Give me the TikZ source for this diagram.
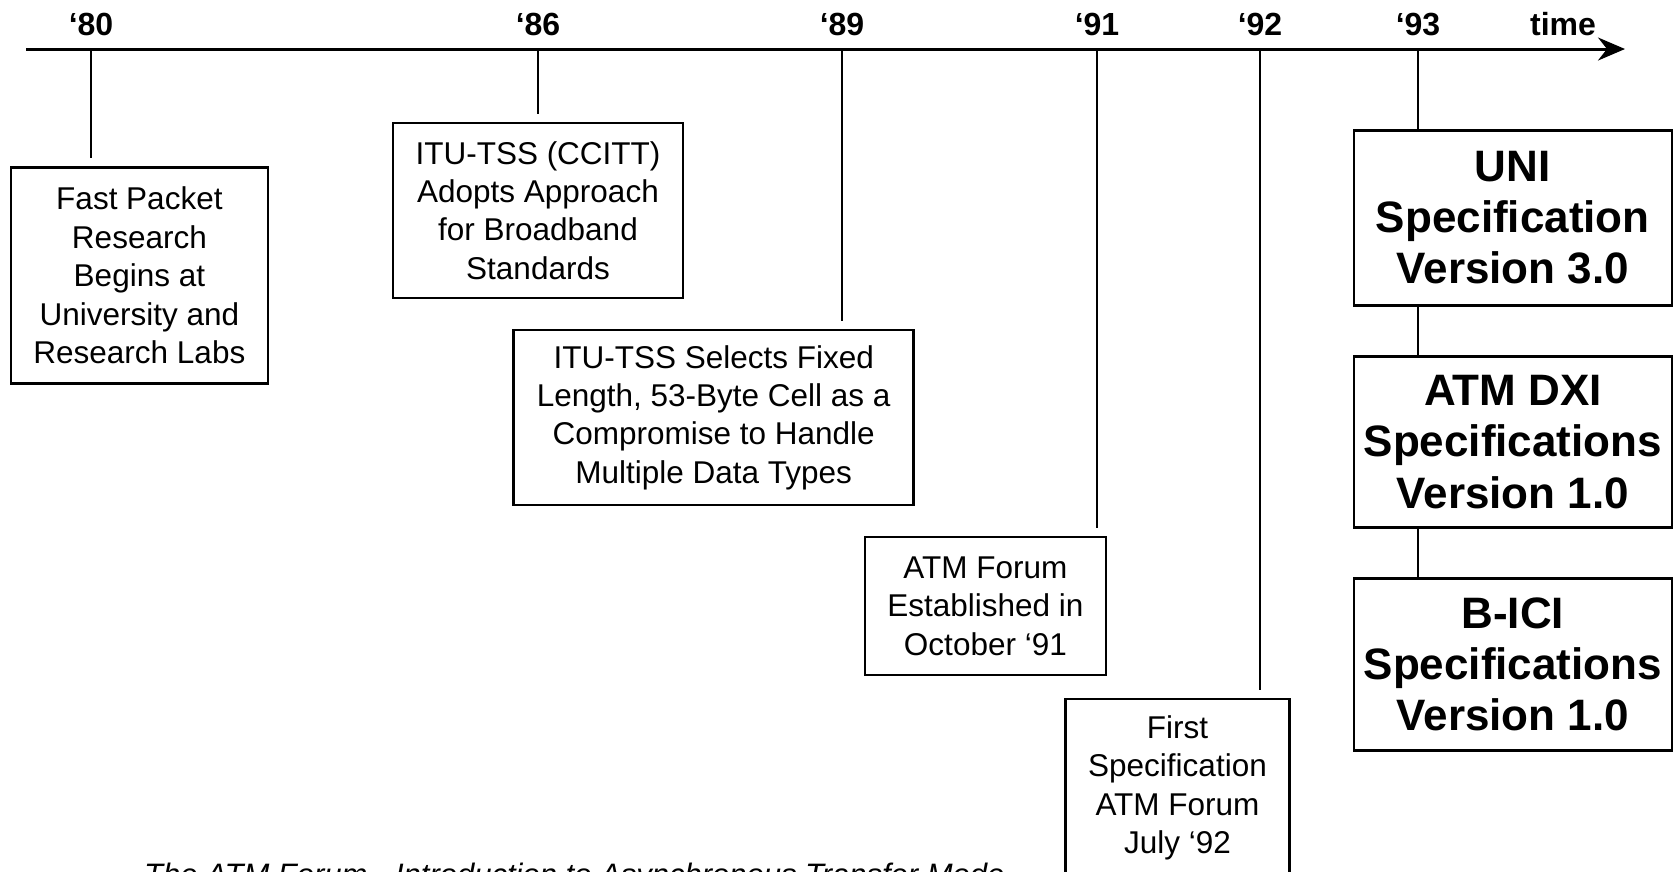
\documentclass[tikz,border=0pt]{standalone}
\usepackage{fontspec}
\setmainfont{Liberation Sans}
\usetikzlibrary{arrows.meta,positioning,calc}

\begin{document}
\begin{tikzpicture}[x=1pt,y=-1pt,
      box/.style={draw,line width=2.5pt,fill=white,inner sep=0pt,align=center,
        font=\fontsize{31.5}{38.4}\selectfont},
      spec/.style={box,minimum width=318pt,font=\bfseries\fontsize{44}{51.2}\selectfont},
      yr/.style={anchor=base,inner sep=0pt,font=\bfseries\fontsize{32}{38}\selectfont},
      tick/.style={line width=2.5pt,shorten >=8pt}]
  \useasboundingbox (0,0) rectangle (1674,871);
  % time axis
  \coordinate (start) at (26,49);
  \coordinate (end) at (1625,49);
  \draw[line width=3pt,-{Stealth[length=27pt,width=23pt,inset=9pt]}] (start) -- (end);
  \foreach \yr/\x in {80/91,86/538,89/842,91/1097,92/1260,93/1418}
    { \coordinate (t\yr) at (\x,49);
      \node[yr] (l\yr) at (\x,35) {‘\yr}; }
  \node[yr] (ltime) at (1563,35) {time};
  % events
  \node[box,minimum width=257pt,minimum height=216pt] (fast) at (139.4,275.5)
    {Fast Packet\\Research\\Begins at\\University and\\Research Labs};
  \node[box,minimum width=290pt,minimum height=175pt] (ccitt) at (538,210.4)
    {ITU-TSS (CCITT)\\Adopts Approach\\for Broadband\\Standards};
  \node[box,minimum width=400pt,minimum height=175pt] (cell) at (713.7,417.5)
    {ITU-TSS Selects Fixed\\Length, 53-Byte Cell as a\\Compromise to Handle\\Multiple Data Types};
  \node[box,minimum width=241pt,minimum height=138pt] (forum) at (985.4,606)
    {ATM Forum\\Established in\\October ‘91};
  \node[box,minimum width=224pt,minimum height=178pt] (first) at (1177.5,788)
    {First\\Specification\\ATM Forum\\July ‘92};
  % specifications of '93
  \node[spec,minimum height=175pt] (uni) at (1512.8,217.8) {UNI\\Specification\\Version 3.0};
  \node[spec,minimum height=171pt] (dxi) at (1512.8,442) {ATM DXI\\Specifications\\Version 1.0};
  \node[spec,minimum height=172pt] (bici) at (1512.8,664.5) {B-ICI\\Specifications\\Version 1.0};
  % ticks
  \draw[tick] (t80) -- (t80 |- fast.north);
  \draw[tick] (t86) -- (t86 |- ccitt.north);
  \draw[tick] (t89) -- (t89 |- cell.north);
  \draw[tick] (t91) -- (t91 |- forum.north);
  \draw[tick] (t92) -- (t92 |- first.north);
  \draw[line width=2.5pt] (t93) -- (t93 |- uni.north);
  \draw[line width=2.5pt] (uni.south -| t93) -- (dxi.north -| t93);
  \draw[line width=2.5pt] (dxi.south -| t93) -- (bici.north -| t93);
  \node[anchor=base west,inner sep=0pt,font=\itshape\fontsize{31}{37}\selectfont] (caption)
    at (144,885) {The ATM Forum - Introduction to Asynchronous Transfer Mode};
\end{tikzpicture}
\end{document}
